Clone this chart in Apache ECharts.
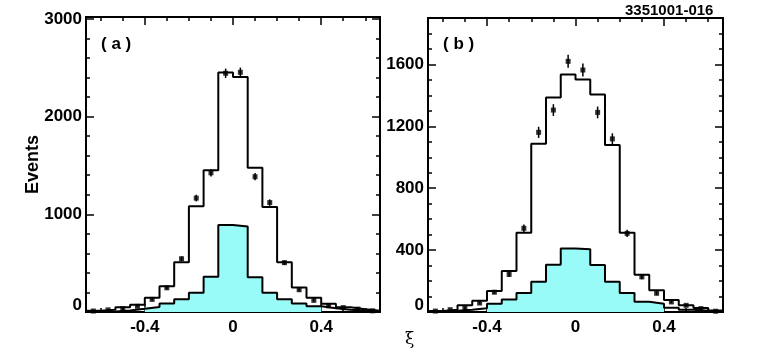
<!DOCTYPE html>
<html>
<head>
<meta charset="utf-8">
<script src="https://cdn.jsdelivr.net/npm/echarts@6/dist/echarts.min.js"></script>
<style>
html,body{margin:0;padding:0;background:#fff;}
#chart{width:762px;height:350px;}
</style>
</head>
<body>
<div id="chart"></div>
<script>
// bin edges of xi (20 bins)
var binEdges = [-0.6667, -0.6, -0.5333, -0.4667, -0.4, -0.3333, -0.2667, -0.2, -0.1333, -0.0667, 0,
                0.0667, 0.1333, 0.2, 0.2667, 0.3333, 0.4, 0.4667, 0.5333, 0.6, 0.6667];

// panel (a)
var mainA  = [12, 24, 48, 74, 146, 264, 510, 1082, 1452, 2452, 2406, 1478, 1075, 510, 250, 145, 85, 48, 28, 12];
var lowA   = [2, 5, 16, 33, 52, 86, 130, 198, 360, 890, 876, 355, 196, 130, 86, 58, 38, 24, 13, 6];
var dataA  = [10, 22, 34, 58, 129, 248, 545, 1166, 1425, 2444, 2454, 1385, 1120, 505, 228, 119, 64, 45, 30, 12];
var errA   = [4, 6, 7, 9, 12, 17, 24, 34, 38, 48, 48, 37, 33, 23, 16, 12, 9, 8, 6, 4];

// panel (b)
var mainB  = [6, 15, 43, 72, 136, 265, 512, 1088, 1386, 1535, 1503, 1405, 1079, 512, 241, 140, 78, 43, 26, 10];
var lowB   = [4, 8, 15, 24, 54, 80, 123, 195, 306, 410, 405, 304, 195, 123, 66, 54, 28, 15, 8, 4];
var dataB  = [6, 15, 28, 58, 128, 243, 541, 1161, 1305, 1620, 1564, 1290, 1119, 508, 227, 121, 65, 43, 22, 5];
var errB   = [3, 5, 6, 9, 12, 17, 25, 36, 38, 42, 42, 38, 36, 24, 16, 12, 9, 7, 5, 3];

// filled (cyan) part covers bins 4..15
var fillFrom = 4, fillTo = 15;

// ticks
var xMajor = [-0.4, 0, 0.4];
var xMinor = [-0.6, -0.5, -0.3, -0.2, -0.1, 0.1, 0.2, 0.3, 0.5, 0.6];
var yMajorA = [0, 1000, 2000, 3000];
var yMinorA = [200, 400, 600, 800, 1200, 1400, 1600, 1800, 2200, 2400, 2600, 2800];
var yMajorB = [0, 400, 800, 1200, 1600];
var yMinorB = [100, 200, 300, 500, 600, 700, 900, 1000, 1100, 1300, 1400, 1500, 1700, 1800];

var FONT = 'Liberation Sans';
var CYAN = '#99fbf7';

function stepData(vals, from, to){
    var out = [];
    for (var i = from; i <= to; i++) out.push([binEdges[i], vals[i]]);
    out.push([binEdges[to + 1], vals[to]]);
    return out;
}
function pointData(vals){
    var out = [];
    vals.forEach(function(v, i){ out.push([(binEdges[i] + binEdges[i + 1]) / 2, v]); });
    return out;
}
function errData(vals, errs){
    var out = [];
    vals.forEach(function(v, i){ out.push([(binEdges[i] + binEdges[i + 1]) / 2, v - errs[i], v + errs[i]]); });
    return out;
}

function labelStyle(){
    return { color: '#000', fontSize: 17, fontWeight: 'bold', fontFamily: FONT };
}

function xAxes(g){
    var res = [];
    ['bottom', 'top'].forEach(function(pos){
        [true, false].forEach(function(major){
            var lab = labelStyle();
            lab.show = (pos === 'bottom' && major);
            lab.customValues = xMajor;
            lab.margin = 7;
            lab.formatter = function(v){ return v === 0 ? '0' : (v < 0 ? '-' : '') + Math.abs(v).toFixed(1); };
            res.push({
                type: 'value', gridIndex: g, position: pos,
                min: binEdges[0], max: binEdges[binEdges.length - 1],
                axisLine: { show: false, onZero: false },
                splitLine: { show: false },
                axisTick: { show: true, inside: true, length: major ? 8 : 4,
                            customValues: major ? xMajor : xMinor,
                            lineStyle: { color: '#000', width: 1.5 } },
                axisLabel: lab
            });
        });
    });
    return res;
}

function yAxes(g, yMax, major, minor, name){
    var res = [];
    ['left', 'right'].forEach(function(pos){
        [true, false].forEach(function(isMajor){
            var lab = labelStyle();
            lab.show = (pos === 'left' && isMajor);
            lab.customValues = major;
            lab.margin = 4;
            lab.formatter = function(v){ return v === 0 ? '{z|0}' : String(v); };
            lab.rich = { z: { color: '#000', fontSize: 17, fontWeight: 'bold', fontFamily: FONT, padding: [0, 0, 14, 0] } };
            var ax = {
                type: 'value', gridIndex: g, position: pos,
                min: 0, max: yMax,
                axisLine: { show: false, onZero: false },
                splitLine: { show: false },
                axisTick: { show: true, inside: true, length: isMajor ? 8 : 4,
                            customValues: isMajor ? major : minor,
                            lineStyle: { color: '#000', width: 1.5 } },
                axisLabel: lab
            };
            if (name && pos === 'left' && isMajor) {
                ax.name = name;
                ax.nameLocation = 'middle';
                ax.nameRotate = 90;
                ax.nameGap = 44;
                ax.nameMoveOverlap = false;
                ax.nameTextStyle = { color: '#000', fontSize: 18, fontWeight: 'bold', fontFamily: FONT };
            }
            res.push(ax);
        });
    });
    return res;
}

function panelSeries(axisIdx, main, low, pts, errs){
    return [
        { type: 'line', xAxisIndex: axisIdx, yAxisIndex: axisIdx, step: 'end', symbol: 'none',
          data: stepData(low, fillFrom, fillTo), lineStyle: { width: 0 },
          areaStyle: { color: CYAN, opacity: 1 }, z: 1, silent: true },
        { type: 'line', xAxisIndex: axisIdx, yAxisIndex: axisIdx, step: 'end', symbol: 'none',
          data: stepData(low, 0, low.length - 1), lineStyle: { color: '#000', width: 2 }, z: 2 },
        { type: 'line', xAxisIndex: axisIdx, yAxisIndex: axisIdx, step: 'end', symbol: 'none',
          data: stepData(main, 0, main.length - 1), lineStyle: { color: '#000', width: 2 }, z: 3 },
        { type: 'custom', xAxisIndex: axisIdx, yAxisIndex: axisIdx, data: errData(pts, errs), z: 4,
          renderItem: function(params, api){
              var p1 = api.coord([api.value(0), api.value(1)]);
              var p2 = api.coord([api.value(0), api.value(2)]);
              return { type: 'line', shape: { x1: p1[0], y1: p1[1], x2: p2[0], y2: p2[1] },
                       style: { stroke: '#000', lineWidth: 1.5 } };
          } },
        { type: 'scatter', xAxisIndex: axisIdx, yAxisIndex: axisIdx, data: pointData(pts),
          symbol: 'rect', symbolSize: 5, itemStyle: { color: '#000' }, z: 5 }
    ];
}

var chart = echarts.init(document.getElementById('chart'));
var option = {
    animation: false,
    backgroundColor: '#fff',
    title: [
        { text: '( a )', left: 101, top: 36, padding: 0, textStyle: { color: '#000', fontSize: 17, fontWeight: 'bold', fontFamily: FONT } },
        { text: '( b )', left: 443, top: 36, padding: 0, textStyle: { color: '#000', fontSize: 17, fontWeight: 'bold', fontFamily: FONT } },
        { text: '3351001-016', left: 625, top: 3, padding: 0, textStyle: { color: '#000', fontSize: 15, fontWeight: 'bold', fontFamily: FONT } },
        { text: 'ξ', left: 405, top: 331, padding: 0, textStyle: { color: '#000', fontSize: 17, fontWeight: 'normal', fontFamily: 'DejaVu Serif' } }
    ],
    grid: [
        { left: 86, top: 17, width: 294, height: 295, show: true, borderColor: '#000', borderWidth: 2, backgroundColor: 'transparent' },
        { left: 428, top: 18, width: 295, height: 294, show: true, borderColor: '#000', borderWidth: 2, backgroundColor: 'transparent' }
    ],
    xAxis: xAxes(0).concat(xAxes(1)),
    yAxis: yAxes(0, 3020, yMajorA, yMinorA, 'Events').concat(yAxes(1, 1900, yMajorB, yMinorB, null)),
    series: panelSeries(0, mainA, lowA, dataA, errA).concat(panelSeries(4, mainB, lowB, dataB, errB))
};
chart.setOption(option);
</script>
</body>
</html>
